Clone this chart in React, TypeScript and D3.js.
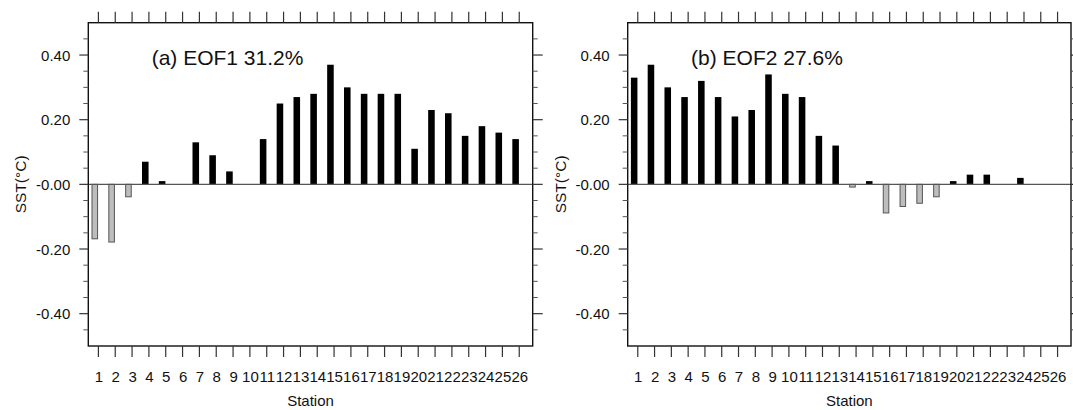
import React from "react";
import * as d3 from "d3";

const stations = d3.range(1, 27);
const eof1 = [-0.17, -0.18, -0.04, 0.07, 0.01, 0, 0.13, 0.09, 0.04, 0, 0.14, 0.25, 0.27, 0.28, 0.37, 0.3, 0.28, 0.28, 0.28, 0.11, 0.23, 0.22, 0.15, 0.18, 0.16, 0.14];
const eof2 = [0.33, 0.37, 0.3, 0.27, 0.32, 0.27, 0.21, 0.23, 0.34, 0.28, 0.27, 0.15, 0.12, -0.01, 0.01, -0.09, -0.07, -0.06, -0.04, 0.01, 0.03, 0.03, 0, 0.02, 0, 0];
const yMajor = [-0.4, -0.2, 0, 0.2, 0.4];
const yMajorLabels = ["-0.40", "-0.20", "-0.00", "0.20", "0.40"];
const panels = [
  { title: "(a) EOF1 31.2%", values: eof1, x0: 88.3, x1: 532.7 },
  { title: "(b) EOF2 27.6%", values: eof2, x0: 627.7, x1: 1071 },
];

const Y0 = 22.7;
const Y1 = 346;
const FONT = "'Liberation Sans', Arial, Helvetica, sans-serif";

function Panel({ title, values, x0, x1 }: { title: string; values: number[]; x0: number; x1: number }) {
  const xs = d3.scaleLinear().domain([0.4, 26.8]).range([x0, x1]);
  const ys = d3.scaleLinear().domain([-0.5, 0.5]).range([Y1, Y0]);
  const minor = d3.range(-0.45, 0.5, 0.05).filter((v) => Math.abs(Math.round(v * 100) % 20) !== 0 || Math.abs(v) > 0.46);
  const minorTicks = d3.range(-9, 10).map((k) => k * 0.05).filter((v) => !yMajor.some((m) => Math.abs(m - v) < 1e-6));
  const tickColor = "#333";
  return (
    <g>
      {/* bars */}
      {values.map((v, i) => {
        const s = stations[i];
        if (v === 0) return null;
        const xa = xs(s - 0.41);
        const xb = xs(s - 0.02);
        const ya = ys(Math.max(v, 0));
        const yb = ys(Math.min(v, 0));
        return v > 0 ? (
          <rect key={i} x={xa} y={ya} width={xb - xa} height={yb - ya} fill="#000" />
        ) : (
          <rect key={i} x={xa + 0.5} y={ya} width={xb - xa - 1} height={yb - ya - 0.5} fill="#bdbdbd" stroke="#555" strokeWidth={1} />
        );
      })}
      {/* zero line */}
      <line x1={x0} x2={x1} y1={ys(0)} y2={ys(0)} stroke="#555" strokeWidth={1.2} />
      {/* frame */}
      <rect x={x0} y={Y0} width={x1 - x0} height={Y1 - Y0} fill="none" stroke="#111" strokeWidth={1.4} />
      {/* x ticks top & bottom */}
      {stations.map((s) => (
        <g key={s}>
          <line x1={xs(s)} x2={xs(s)} y1={Y0} y2={Y0 - 11} stroke={tickColor} strokeWidth={1.2} />
          <line x1={xs(s)} x2={xs(s)} y1={Y1} y2={Y1 + 11} stroke={tickColor} strokeWidth={1.2} />
          <text x={xs(s) + 0.5} y={381.5} textAnchor="middle" fontFamily={FONT} fontSize={15} fill="#111">
            {s}
          </text>
        </g>
      ))}
      {/* y major ticks */}
      {yMajor.map((v, i) => (
        <g key={v}>
          <line x1={x0} x2={x0 - 9} y1={ys(v)} y2={ys(v)} stroke={tickColor} strokeWidth={1.2} />
          <line x1={x1} x2={x1 + 10} y1={ys(v)} y2={ys(v)} stroke={tickColor} strokeWidth={1.2} />
          <text x={x0 - 18} y={ys(v) + 5.5} textAnchor="end" fontFamily={FONT} fontSize={15} fill="#111">
            {yMajorLabels[i]}
          </text>
        </g>
      ))}
      {minorTicks.map((v) => (
        <g key={"m" + v}>
          <line x1={x0} x2={x0 - 5} y1={ys(v)} y2={ys(v)} stroke="#555" strokeWidth={1} />
          <line x1={x1} x2={x1 + 5} y1={ys(v)} y2={ys(v)} stroke="#555" strokeWidth={1} />
        </g>
      ))}
      {/* title */}
      <text x={x0 + 63.4} y={65} fontFamily={FONT} fontSize={21} fill="#111">
        {title}
      </text>
      {/* axis labels */}
      <text x={(x0 + x1) / 2} y={406} textAnchor="middle" fontFamily={FONT} fontSize={15} fill="#111">
        Station
      </text>
      <text
        transform={`translate(${x0 - 62},${(Y0 + Y1) / 2}) rotate(-90)`}
        textAnchor="middle"
        fontFamily={FONT}
        fontSize={15.5}
        fill="#111"
      >
        SST(°C)
      </text>
    </g>
  );
}

export default function App() {
  return (
    <svg width={1073} height={410} style={{ position: "absolute", left: 0, top: 0, background: "#fff" }}>
      <rect width={1073} height={410} fill="#fff" />
      {panels.map((p) => (
        <Panel key={p.title} {...p} />
      ))}
    </svg>
  );
}
